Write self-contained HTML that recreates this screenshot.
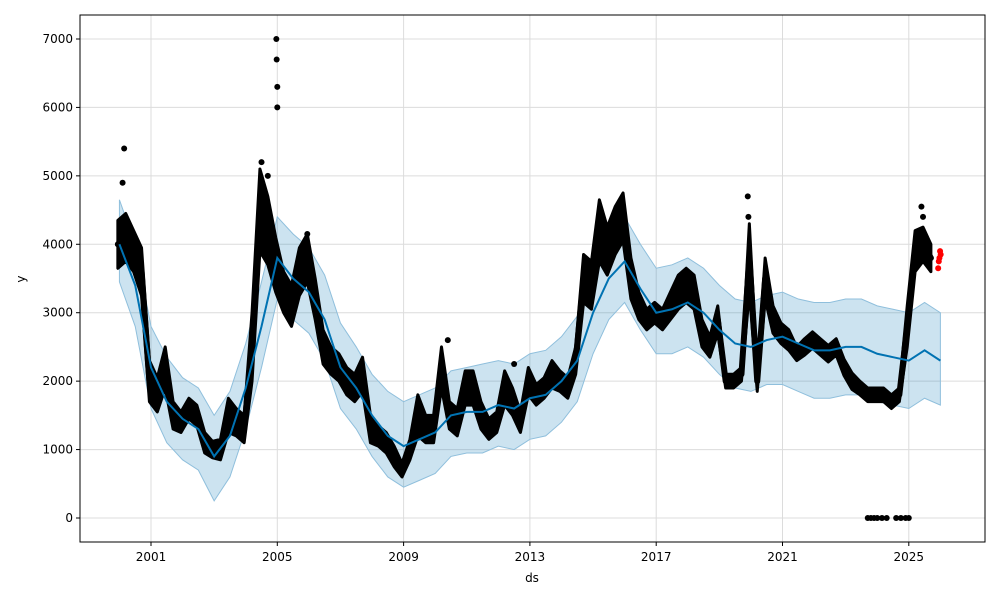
<!DOCTYPE html>
<html><head><meta charset="utf-8"><style>
body{margin:0;background:#fff;font-family:"Liberation Sans","DejaVu Sans",sans-serif}
svg text{font-family:"DejaVu Sans","Liberation Sans",sans-serif;font-size:12px;fill:#000}
</style></head><body>
<svg id="chart" width="1000" height="600" viewBox="0 0 1000 600" xmlns="http://www.w3.org/2000/svg">
<rect width="1000" height="600" fill="#fff"/>
<g id="grid"></g><g id="band"></g><g id="pts"></g><g id="line"></g><g id="axes"></g>
</svg>
<script>
const fcT0 = 2000.0, fcStep = 0.5;
const yhat = [4000,3400,2200,1700,1450,1300,900,1200,1900,2800,3800,3500,3300,2900,2200,1900,1500,1200,1050,1150,1250,1500,1550,1550,1650,1600,1750,1800,2000,2300,3000,3500,3750,3350,3000,3050,3150,3000,2750,2550,2500,2600,2650,2550,2450,2450,2500,2500,2400,2350,2300,2450,2300];
const upper = [4650,4000,2800,2350,2050,1900,1500,1850,2550,3450,4400,4150,3950,3550,2850,2500,2100,1850,1700,1800,1900,2150,2200,2250,2300,2250,2400,2450,2650,2950,3650,4150,4400,4000,3650,3700,3800,3650,3400,3200,3150,3250,3300,3200,3150,3150,3200,3200,3100,3050,3000,3150,3000];
const lower = [3450,2800,1600,1100,850,700,250,600,1300,2200,3200,2900,2700,2300,1600,1300,900,600,450,550,650,900,950,950,1050,1000,1150,1200,1400,1700,2400,2900,3150,2750,2400,2400,2500,2350,2100,1900,1850,1950,1950,1850,1750,1750,1800,1800,1700,1650,1600,1750,1650];
const actT0 = 1999.95, actStep = 0.25;
const actual = [4000,4100,3900,3600,2000,1800,2200,1500,1400,1600,1500,1100,1000,1000,1500,1400,1300,2500,4500,4200,3700,3300,3100,3600,3800,3200,2500,2300,2200,2000,1900,2100,1300,1200,1100,900,700,1000,1500,1300,1300,2200,1500,1400,1900,1900,1500,1300,1400,1900,1700,1400,2000,1800,1900,2100,2000,1900,2300,3500,3400,4200,3900,4200,4400,3500,3100,2900,3000,2900,3100,3300,3400,3300,2700,2500,2900,2000,2000,2100,3800,2000,3500,2900,2700,2600,2400,2500,2600,2500,2400,2500,2200,2000,1900,1800,1800,1800,1700,1800,2800,3900,4000,3800];
const spread = [350,350,300,350,300,250,300,200,150,150,150,150,120,150,250,200,200,500,600,500,400,300,300,350,350,300,250,200,200,200,200,250,200,150,150,150,100,150,300,200,200,300,200,200,250,250,200,150,150,250,200,150,200,150,150,200,150,150,200,350,350,450,350,350,350,300,200,150,150,150,200,250,250,250,200,150,200,100,100,100,500,150,300,200,150,150,100,120,120,120,120,120,120,120,100,100,100,100,100,100,300,300,250,200];
const spikeDates = [2000.15,2000.1,2004.5,2004.7,2004.97,2004.98,2005.0,2005.0,2019.9,2019.92,2025.4,2025.45,2005.95,2010.4,2012.5];
const spikeVals = [5400,4900,5200,5000,7000,6700,6300,6000,4700,4400,4550,4400,4150,2600,2250];
const zeroDates = [2023.7,2023.8,2023.9,2024.0,2024.15,2024.3,2024.6,2024.75,2024.9,2025.0];
const zeroVals = [0,0,0,0,0,0,0,0,0,0];
const redDates = [2025.93,2025.95,2025.97,2025.99,2026.01];
const redVals = [3650,3750,3800,3900,3850];
const xTicks = [2001,2005,2009,2013,2017,2021,2025];
const yTicks = [0,1000,2000,3000,4000,5000,6000,7000];

const X = t => 151 + (t-2001)*31.575;
const Y = v => 518 - v*0.06843;
const NS='http://www.w3.org/2000/svg';
function mk(tag,attrs,parent){const e=document.createElementNS(NS,tag);for(const k in attrs)e.setAttribute(k,attrs[k]);parent.appendChild(e);return e;}
const grid=document.getElementById('grid'),band=document.getElementById('band'),pts=document.getElementById('pts'),line=document.getElementById('line'),axes=document.getElementById('axes');

xTicks.forEach(t=>{
  const g=mk('line',{x1:X(t),x2:X(t),y1:15,y2:542,stroke:'#dcdcdc','stroke-width':1},grid);
  
  
  mk('line',{x1:X(t),x2:X(t),y1:542,y2:546,stroke:'#000'},axes);
  const tx=mk('text',{x:X(t),y:561,'text-anchor':'middle'},axes);tx.textContent=t;
  
  
});
yTicks.forEach(v=>{
  const g=mk('line',{x1:80,x2:985,y1:Y(v),y2:Y(v),stroke:'#dcdcdc','stroke-width':1},grid);
  
  
  mk('line',{x1:76,x2:80,y1:Y(v),y2:Y(v),stroke:'#000'},axes);
  const tx=mk('text',{x:73,y:Y(v)+4,'text-anchor':'end'},axes);tx.textContent=v;
  
  
});
mk('rect',{x:80,y:15,width:905,height:527,fill:'none',stroke:'#000','stroke-width':1},axes);
const xl=mk('text',{x:532,y:582,'text-anchor':'middle'},axes);xl.textContent='ds';


const yl=mk('text',{x:25,y:279,'text-anchor':'middle',transform:'rotate(-90 25 279)'},axes);yl.textContent='y';



// band
let d='';
upper.forEach((v,i)=>{d+=(i?'L':'M')+X(fcT0+i*fcStep)+','+Y(v);});
for(let i=lower.length-1;i>=0;i--)d+='L'+X(fcT0+i*fcStep)+','+Y(lower[i]);
const b=mk('path',{d:d+'Z',fill:'#0072B2','fill-opacity':0.2,stroke:'#8fbfdc','stroke-width':1},band);



// actual data cluster envelope
let cd='';
actual.forEach((v,i)=>{cd+=(i?'L':'M')+X(actT0+i*actStep)+','+Y(v+spread[i]);});
for(let i=actual.length-1;i>=0;i--)cd+='L'+X(actT0+i*actStep)+','+Y(actual[i]-spread[i]);
const ce=mk('path',{d:cd+'Z',fill:'#000',stroke:'#000','stroke-width':3,'stroke-linejoin':'round'},pts);


let pd='';
actual.forEach((v,i)=>{pd+=(i?'L':'M')+X(actT0+i*actStep)+','+Y(v);});
const al=mk('path',{d:pd,fill:'none',stroke:'#000','stroke-width':6,'stroke-linejoin':'round','stroke-linecap':'round'},pts);


function dots(ds,vs,col,name){ds.forEach((t,i)=>{const c=mk('circle',{cx:X(t),cy:Y(vs[i]),r:3,fill:col},pts);
  
  });}
dots(spikeDates,spikeVals,'#000','observed-point');
dots(zeroDates,zeroVals,'#000','zero-point');
dots(redDates,redVals,'#ff0000','recent-point');

// forecast line
let ld='';
yhat.forEach((v,i)=>{ld+=(i?'L':'M')+X(fcT0+i*fcStep)+','+Y(v);});
const fl=mk('path',{d:ld,fill:'none',stroke:'#0072B2','stroke-width':2},line);


</script>
</body></html>
